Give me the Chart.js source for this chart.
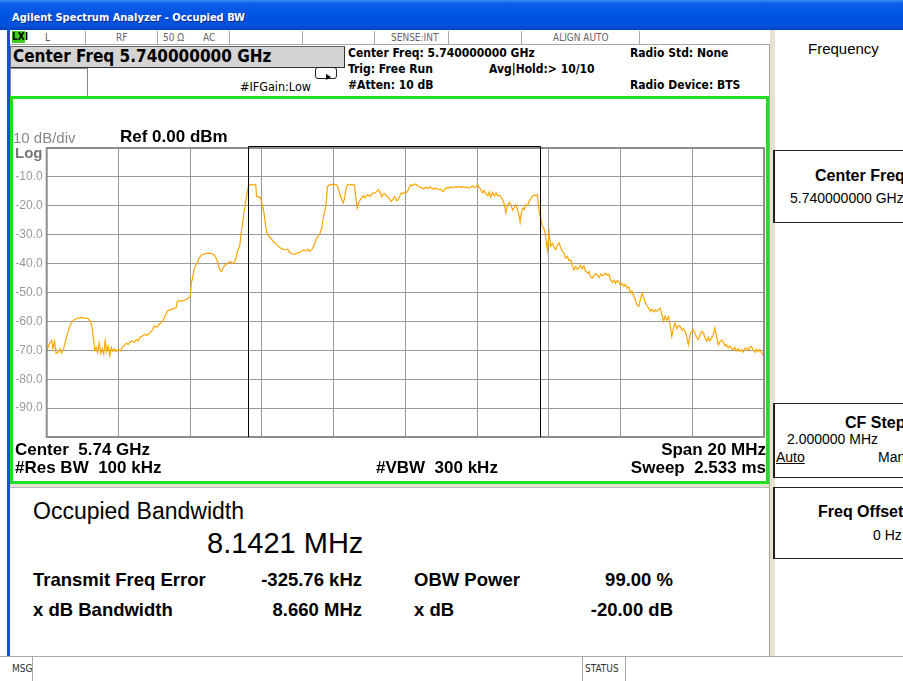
<!DOCTYPE html>
<html>
<head>
<meta charset="utf-8">
<script src="https://cdn.jsdelivr.net/npm/chart.js@4.4.1/dist/chart.umd.min.js"></script>
<style>
  html, body { margin: 0; padding: 0; }
  body { width: 903px; height: 681px; overflow: hidden; position: relative; background: #fff;
         font-family: "Liberation Sans", Arial, sans-serif; }
  .abs { position: absolute; }
  .t { position: absolute; white-space: pre; line-height: 1; }
  .nar { font-family: "Liberation Sans Narrow", "DejaVu Sans Condensed", "Liberation Sans", sans-serif; }
  .b { font-weight: bold; }
  .r { text-align: right; width: 240px; }
  #titlebar { left: 0; top: 0; width: 903px; height: 30px;
    background: linear-gradient(#3c8cf8 0%, #0a5fe8 12%, #0054e3 45%, #0052dc 85%, #0040bd 100%); }
  #status { left: 10px; top: 30px; width: 760px; height: 14px; border-bottom: 1px solid #aaa; background: #fff; }
  .sep { position: absolute; top: 31px; width: 1px; height: 13px; background: #aaa; }
  #frame { left: 10px; top: 96px; width: 753px; height: 382px; border: 3px solid #1fe01f; }
  #results { left: 10px; top: 487px; width: 759px; height: 168px; border-top: 1px solid #bbb; background: #fff; }
  #bottombar { left: 0; top: 656px; width: 903px; height: 25px; background: #fff; border-top: 1px solid #aaa; }
  .key { position: absolute; left: 773px; width: 140px; border-top: 1px solid #222; border-bottom: 1px solid #222;
         border-left: 2px solid #222; background: #fff; }
</style>
</head>
<body>
<div id="titlebar" class="abs"></div>
<div class="t nar b" style="left:12px;top:12px;font-size:11px;color:#fff;text-shadow:1px 1px 0 #0a2a8a;">Agilent Spectrum Analyzer - Occupied BW</div>

<!-- window edges -->
<div class="abs" style="left:7px;top:30px;width:3px;height:626px;background:#1550d8;"></div>
<div class="abs" style="left:769px;top:30px;width:5px;height:626px;background:#e6e2d2;border-left:1px solid #a8a494;"></div>

<!-- status row -->
<div id="status" class="abs"></div>
<div class="abs" style="left:12px;top:31px;width:13px;height:12px;background:#3ccc1c;"></div>
<div class="t nar b" style="left:12px;top:32px;font-size:10px;color:#000;">LXI</div>
<div class="t nar" style="left:45px;top:33px;font-size:10px;color:#555;">L</div>
<div class="t nar" style="left:116px;top:33px;font-size:10px;color:#666;">RF</div>
<div class="t nar" style="left:163px;top:33px;font-size:10px;color:#666;">50 Ω</div>
<div class="t nar" style="left:203px;top:33px;font-size:10px;color:#666;">AC</div>
<div class="t nar" style="left:391px;top:33px;font-size:10px;color:#666;">SENSE:INT</div>
<div class="t nar" style="left:553px;top:33px;font-size:10px;color:#666;">ALIGN AUTO</div>
<div class="sep" style="left:85px"></div>
<div class="sep" style="left:157px"></div>
<div class="sep" style="left:229px"></div>
<div class="sep" style="left:302px"></div>
<div class="sep" style="left:374px"></div>
<div class="sep" style="left:448px"></div>
<div class="sep" style="left:521px"></div>
<div class="sep" style="left:639px"></div>

<!-- header -->
<div class="abs" style="left:10px;top:46px;width:333px;height:20px;background:#d4d4d4;border:1px solid #666;border-right-color:#333;border-bottom-color:#333;"></div>
<div class="t nar b" style="left:13px;top:48px;font-size:17px;color:#000;">Center Freq 5.740000000 GHz</div>
<div class="abs" style="left:10px;top:68px;width:76px;height:28px;background:#fff;border:1px solid #888;"></div>
<div class="t nar" style="left:240px;top:81px;font-size:12.5px;color:#000;">#IFGain:Low</div>
<div class="abs" style="left:315px;top:67px;width:20px;height:10px;border:1px solid #222;border-radius:3px;"></div>
<div class="abs" style="left:326px;top:74px;width:0;height:0;border-top:3px solid transparent;border-bottom:3px solid transparent;border-left:5px solid #000;"></div>
<div class="t nar b" style="left:348px;top:47px;font-size:12px;">Center Freq: 5.740000000 GHz</div>
<div class="t nar b" style="left:348px;top:63px;font-size:12px;">Trig: Free Run</div>
<div class="t nar b" style="left:489px;top:63px;font-size:12px;">Avg|Hold:&gt; 10/10</div>
<div class="t nar b" style="left:348px;top:79px;font-size:12px;">#Atten: 10 dB</div>
<div class="t nar b" style="left:630px;top:47px;font-size:12px;">Radio Std: None</div>
<div class="t nar b" style="left:630px;top:79px;font-size:12px;">Radio Device: BTS</div>

<!-- chart frame -->
<div id="frame" class="abs"></div>
<canvas id="obwChart" class="abs" width="753" height="382" style="left:13px;top:99px;"></canvas>
<div class="t" style="left:13px;top:130px;font-size:15px;color:#888;">10 dB/div</div>
<div class="t b" style="left:120px;top:128px;font-size:17px;color:#000;">Ref 0.00 dBm</div>
<div class="t b" style="left:15px;top:145px;font-size:15px;color:#777;">Log</div>
<div class="t b" style="left:15px;top:441px;font-size:17px;">Center  5.74 GHz</div>
<div class="t b" style="left:15px;top:459px;font-size:17px;">#Res BW  100 kHz</div>
<div class="t b" style="left:376px;top:459px;font-size:17px;">#VBW  300 kHz</div>
<div class="t b r" style="left:526px;top:441px;font-size:17px;">Span 20 MHz</div>
<div class="t b r" style="left:526px;top:459px;font-size:17px;">Sweep  2.533 ms</div>

<!-- results -->
<div class="abs" style="left:10px;top:484px;width:759px;height:3px;background:#e6e2d2;"></div>
<div id="results" class="abs"></div>
<div class="t" style="left:33px;top:500px;font-size:23px;">Occupied Bandwidth</div>
<div class="t" style="left:207px;top:529px;font-size:29px;">8.1421 MHz</div>
<div class="t b" style="left:33px;top:571px;font-size:18.5px;">Transmit Freq Error</div>
<div class="t b r" style="left:122px;top:571px;font-size:18.5px;">-325.76 kHz</div>
<div class="t b" style="left:414px;top:571px;font-size:18.5px;">OBW Power</div>
<div class="t b r" style="left:433px;top:571px;font-size:18.5px;">99.00 %</div>
<div class="t b" style="left:33px;top:601px;font-size:18.5px;">x dB Bandwidth</div>
<div class="t b r" style="left:122px;top:601px;font-size:18.5px;">8.660 MHz</div>
<div class="t b" style="left:414px;top:601px;font-size:18.5px;">x dB</div>
<div class="t b r" style="left:433px;top:601px;font-size:18.5px;">-20.00 dB</div>

<!-- softkeys -->
<div class="t" style="left:808px;top:41px;font-size:15px;">Frequency</div>
<div class="key" style="top:150px;height:71px;"></div>
<div class="t b" style="left:815px;top:168px;font-size:16px;">Center Freq</div>
<div class="t" style="left:790px;top:191px;font-size:14px;">5.740000000 GHz</div>
<div class="key" style="top:403px;height:73px;"></div>
<div class="t b" style="left:845px;top:415px;font-size:16px;">CF Step</div>
<div class="t" style="left:787px;top:432px;font-size:14px;">2.000000 MHz</div>
<div class="t" style="left:776px;top:450px;font-size:14px;text-decoration:underline;">Auto</div>
<div class="t" style="left:878px;top:450px;font-size:14px;">Man</div>
<div class="key" style="top:487px;height:70px;"></div>
<div class="t b" style="left:818px;top:504px;font-size:16px;">Freq Offset</div>
<div class="t" style="left:873px;top:528px;font-size:14px;">0 Hz</div>

<!-- bottom bar -->
<div id="bottombar" class="abs"></div>
<div class="t nar" style="left:12px;top:664px;font-size:10px;color:#333;">MSG</div>
<div class="abs" style="left:32px;top:657px;width:1px;height:24px;background:#aaa;"></div>
<div class="abs" style="left:582px;top:657px;width:1px;height:24px;background:#aaa;"></div>
<div class="t nar" style="left:585px;top:664px;font-size:10px;color:#333;">STATUS</div>
<div class="abs" style="left:625px;top:657px;width:1px;height:24px;background:#aaa;"></div>

<script>
// Оцінені з картинки значення: зміщення від центру (МГц) і рівень (дБм)
const centerGHz = 5.74;
const spanMHz = 20;
const refLevel = 0;
const bottomLevel = -100;
const obwMHz = 8.1421;
const freqErrorMHz = -0.32576;
const levelTicks = [-10, -20, -30, -40, -50, -60, -70, -80, -90];

const freqOffsetMHz = [
  -10.00, -9.95, -9.91, -9.86, -9.83, -9.78, -9.74, -9.69, -9.63, -9.59, -9.54, -9.49, -9.44, -9.38, -9.31, -9.24,
  -9.17, -9.08, -8.97, -8.85, -8.79, -8.75, -8.72, -8.69, -8.66, -8.62, -8.58, -8.54, -8.49, -8.45, -8.41, -8.37,
  -8.33, -8.29, -8.24, -8.20, -8.16, -8.11, -8.06, -8.00, -7.94, -7.88, -7.83, -7.78, -7.73, -7.68, -7.62, -7.56,
  -7.50, -7.45, -7.40, -7.32, -7.26, -7.20, -7.13, -7.06, -7.00, -6.93, -6.86, -6.77, -6.71, -6.63, -6.55, -6.47,
  -6.39, -6.36, -6.29, -6.22, -6.12, -6.04, -6.00, -5.97, -5.91, -5.89, -5.84, -5.79, -5.75, -5.66, -5.57, -5.47,
  -5.38, -5.32, -5.28, -5.23, -5.19, -5.15, -5.12, -5.07, -5.01, -4.94, -4.87, -4.82, -4.78, -4.73, -4.69, -4.66,
  -4.62, -4.59, -4.56, -4.53, -4.50, -4.47, -4.44, -4.41, -4.38, -4.34, -4.29, -4.23, -4.17, -4.15, -4.08, -4.04,
  -3.99, -3.94, -3.91, -3.88, -3.85, -3.81, -3.75, -3.68, -3.62, -3.56, -3.48, -3.42, -3.34, -3.28, -3.23, -3.16,
  -3.09, -3.03, -2.97, -2.90, -2.83, -2.78, -2.72, -2.67, -2.61, -2.56, -2.51, -2.47, -2.42, -2.38, -2.33, -2.30,
  -2.27, -2.22, -2.19, -2.17, -2.09, -2.03, -1.97, -1.91, -1.86, -1.82, -1.77, -1.73, -1.69, -1.66, -1.63, -1.59,
  -1.53, -1.48, -1.42, -1.39, -1.34, -1.30, -1.26, -1.21, -1.17, -1.12, -1.08, -1.03, -0.98, -0.92, -0.85, -0.80,
  -0.75, -0.70, -0.66, -0.62, -0.57, -0.52, -0.48, -0.43, -0.39, -0.34, -0.29, -0.25, -0.20, -0.15, -0.11, -0.06,
  -0.01, 0.03, 0.08, 0.12, 0.15, 0.20, 0.26, 0.31, 0.36, 0.40, 0.45, 0.51, 0.56, 0.62, 0.67, 0.72,
  0.78, 0.84, 0.91, 0.98, 1.05, 1.10, 1.14, 1.20, 1.26, 1.31, 1.37, 1.44, 1.49, 1.55, 1.60, 1.65,
  1.70, 1.76, 1.81, 1.87, 1.92, 1.97, 2.02, 2.07, 2.11, 2.16, 2.20, 2.24, 2.30, 2.34, 2.38, 2.43,
  2.48, 2.53, 2.57, 2.62, 2.67, 2.71, 2.76, 2.80, 2.85, 2.90, 2.94, 2.99, 3.04, 3.08, 3.13, 3.17,
  3.20, 3.24, 3.28, 3.31, 3.36, 3.41, 3.45, 3.50, 3.54, 3.60, 3.65, 3.68, 3.73, 3.77, 3.82, 3.87,
  3.91, 3.96, 4.01, 4.05, 4.10, 4.15, 4.19, 4.24, 4.29, 4.33, 4.38, 4.43, 4.47, 4.52, 4.56, 4.61,
  4.65, 4.70, 4.75, 4.79, 4.84, 4.88, 4.93, 4.98, 5.02, 5.09, 5.12, 5.16, 5.21, 5.26, 5.31, 5.35,
  5.40, 5.45, 5.49, 5.54, 5.59, 5.63, 5.68, 5.72, 5.77, 5.82, 5.86, 5.91, 5.95, 6.00, 6.04, 6.09,
  6.14, 6.18, 6.23, 6.28, 6.32, 6.37, 6.41, 6.46, 6.51, 6.55, 6.60, 6.65, 6.69, 6.74, 6.79, 6.83,
  6.88, 6.93, 6.97, 7.02, 7.06, 7.10, 7.15, 7.20, 7.24, 7.29, 7.34, 7.38, 7.43, 7.48, 7.52, 7.57,
  7.61, 7.66, 7.71, 7.75, 7.80, 7.84, 7.89, 7.94, 7.98, 8.03, 8.07, 8.12, 8.17, 8.21, 8.26, 8.31,
  8.35, 8.40, 8.45, 8.49, 8.54, 8.59, 8.63, 8.68, 8.73, 8.77, 8.82, 8.86, 8.91, 8.95, 9.00, 9.05,
  9.09, 9.14, 9.18, 9.23, 9.28, 9.32, 9.37, 9.42, 9.46, 9.51, 9.56, 9.60, 9.65, 9.70, 9.74, 9.79,
  9.83, 9.88, 9.93, 9.97, 10.00
];

const levelDbm = [
  -70.4, -68.5, -67.5, -66.6, -69.5, -67.0, -71.0, -70.8, -69.5, -71.0, -70.0, -67.5, -65.0, -62.5, -60.4, -59.5,
  -59.0, -58.7, -58.8, -59.0, -60.0, -61.0, -63.5, -66.5, -70.0, -69.0, -70.8, -67.5, -71.0, -69.5, -71.3, -66.8,
  -70.5, -68.5, -71.8, -69.0, -70.3, -69.5, -70.5, -69.6, -70.2, -68.8, -68.2, -67.5, -68.0, -67.2, -66.8, -67.3,
  -66.3, -66.8, -65.5, -65.0, -64.5, -64.8, -64.0, -63.2, -61.5, -62.0, -61.0, -60.0, -58.5, -56.4, -56.0, -55.6,
  -55.3, -53.2, -52.8, -53.0, -52.5, -51.8, -51.5, -47.0, -43.5, -42.1, -40.4, -39.6, -38.0, -36.9, -36.5, -36.4,
  -36.6, -37.2, -38.0, -39.5, -41.5, -42.5, -42.7, -41.2, -40.4, -39.6, -39.3, -40.0, -39.7, -38.3, -36.3, -35.0,
  -34.0, -31.0, -27.7, -25.5, -22.5, -20.0, -17.9, -15.5, -13.3, -12.7, -12.6, -12.8, -12.7, -16.7, -17.0, -17.2,
  -19.5, -22.5, -25.5, -28.3, -29.5, -30.6, -31.2, -32.5, -32.9, -33.8, -34.6, -35.0, -35.2, -35.0, -36.0, -36.6,
  -36.8, -36.4, -36.2, -35.8, -35.2, -35.6, -35.0, -35.8, -35.2, -34.0, -32.5, -31.1, -30.5, -29.5, -27.7, -25.0,
  -23.0, -20.2, -16.5, -13.3, -12.6, -12.7, -12.6, -12.8, -14.5, -16.2, -18.0, -19.0, -17.0, -14.4, -13.0, -12.6,
  -12.7, -12.6, -12.8, -16.2, -20.8, -19.0, -17.9, -17.2, -16.5, -17.3, -16.3, -16.2, -16.8, -15.6, -15.6, -15.0,
  -14.4, -15.5, -16.8, -16.0, -15.8, -16.7, -17.0, -17.9, -18.5, -17.5, -16.8, -18.2, -17.9, -16.5, -15.6, -15.8,
  -15.2, -15.5, -14.5, -13.5, -12.7, -13.0, -12.4, -12.7, -13.3, -13.5, -13.7, -14.2, -13.6, -14.0, -13.5, -13.7,
  -14.3, -13.8, -14.4, -14.2, -15.1, -14.3, -13.7, -13.9, -13.4, -13.8, -13.4, -13.6, -13.2, -13.7, -13.4, -13.7,
  -13.5, -13.9, -13.6, -13.2, -13.6, -13.3, -12.8, -13.9, -14.6, -15.5, -14.7, -15.8, -16.5, -15.2, -17.0, -15.4,
  -16.6, -15.5, -16.5, -16.3, -17.0, -17.9, -19.5, -22.5, -19.8, -18.8, -19.6, -21.5, -20.5, -19.6, -21.5, -23.5,
  -25.7, -22.0, -20.8, -21.3, -19.6, -20.0, -18.5, -17.5, -16.7, -16.3, -16.4, -16.2, -21.9, -24.0, -27.1, -28.0,
  -30.6, -35.2, -29.4, -34.0, -33.0, -34.5, -35.2, -33.5, -32.9, -34.5, -35.8, -36.5, -38.1, -37.5, -39.0, -38.7,
  -40.5, -42.1, -41.0, -42.0, -41.5, -40.6, -41.8, -40.7, -42.5, -43.3, -42.8, -44.5, -45.0, -44.0, -43.5, -43.8,
  -44.8, -43.6, -44.2, -43.8, -43.2, -44.0, -43.8, -45.5, -46.5, -45.8, -46.8, -45.9, -46.2, -47.5, -46.9, -47.9,
  -47.2, -48.5, -48.1, -50.2, -49.5, -51.3, -52.5, -54.2, -54.8, -52.5, -50.2, -52.0, -53.6, -54.6, -55.5, -56.5,
  -55.8, -56.7, -56.0, -56.5, -55.9, -55.4, -57.5, -60.0, -58.2, -59.5, -58.3, -61.0, -65.2, -62.0, -60.6, -62.5,
  -61.5, -61.7, -63.0, -62.5, -63.5, -65.0, -68.1, -64.5, -63.5, -62.9, -64.0, -65.5, -66.3, -64.8, -63.5, -64.0,
  -65.5, -66.9, -65.5, -66.8, -65.7, -64.5, -62.3, -65.5, -68.1, -67.0, -66.5, -66.9, -68.5, -68.0, -69.2, -68.5,
  -69.5, -69.8, -68.9, -70.2, -69.5, -70.4, -69.8, -70.6, -69.5, -69.2, -70.1, -69.0, -68.7, -69.8, -70.7, -69.6,
  -70.5, -69.8, -70.8, -71.5, -70.5
];

const traceData = freqOffsetMHz.map((f, i) => ({ x: f, y: levelDbm[i] }));

// Рамка графіка і вертикальні лінії смуги OBW
const framePlugin = {
  id: 'frameAndObw',
  afterDraw(chart) {
    const { ctx, chartArea: a, scales } = chart;
    ctx.save();
    ctx.strokeStyle = '#8c8c8c';
    ctx.lineWidth = 2;
    ctx.strokeRect(a.left, a.top, a.right - a.left, a.bottom - a.top);
    const xl = Math.round(scales.x.getPixelForValue(freqErrorMHz - obwMHz / 2)) + 0.5;
    const xr = Math.round(scales.x.getPixelForValue(freqErrorMHz + obwMHz / 2)) + 0.5;
    ctx.strokeStyle = '#000';
    ctx.lineWidth = 1;
    ctx.beginPath();
    ctx.moveTo(xl, a.bottom);
    ctx.lineTo(xl, a.top - 1.5);
    ctx.lineTo(xr, a.top - 1.5);
    ctx.lineTo(xr, a.bottom);
    ctx.stroke();
    ctx.restore();
  }
};

const ctx = document.getElementById('obwChart').getContext('2d');
const chart = new Chart(ctx, {
  type: 'line',
  data: {
    datasets: [{
      label: 'Trace',
      data: traceData,
      borderColor: '#ffa500',
      borderWidth: 1.2,
      pointRadius: 0,
      fill: false,
      tension: 0
    }]
  },
  options: {
    responsive: false,
    animation: false,
    devicePixelRatio: 1,
    layout: { padding: { left: 0, top: 49, right: 2, bottom: 44 } },
    scales: {
      x: {
        type: 'linear',
        min: -spanMHz / 2,
        max: spanMHz / 2,
        ticks: { display: false, stepSize: 2 },
        grid: { color: '#999', lineWidth: 1, drawTicks: false },
        border: { display: false },
        afterFit(scale) { scale.height = 0; }
      },
      y: {
        min: bottomLevel,
        max: refLevel,
        ticks: {
          stepSize: 10,
          padding: 4,
          color: '#999',
          font: { family: 'Liberation Sans, Arial, sans-serif', size: 12 },
          callback: v => levelTicks.includes(v) ? v.toFixed(1) : ''
        },
        grid: { color: '#999', lineWidth: 1, drawTicks: false },
        border: { display: false },
        afterFit(scale) { scale.width = 33.7; }
      }
    },
    plugins: { legend: { display: false }, tooltip: { enabled: false } }
  },
  plugins: [framePlugin]
});
</script>
</body>
</html>
